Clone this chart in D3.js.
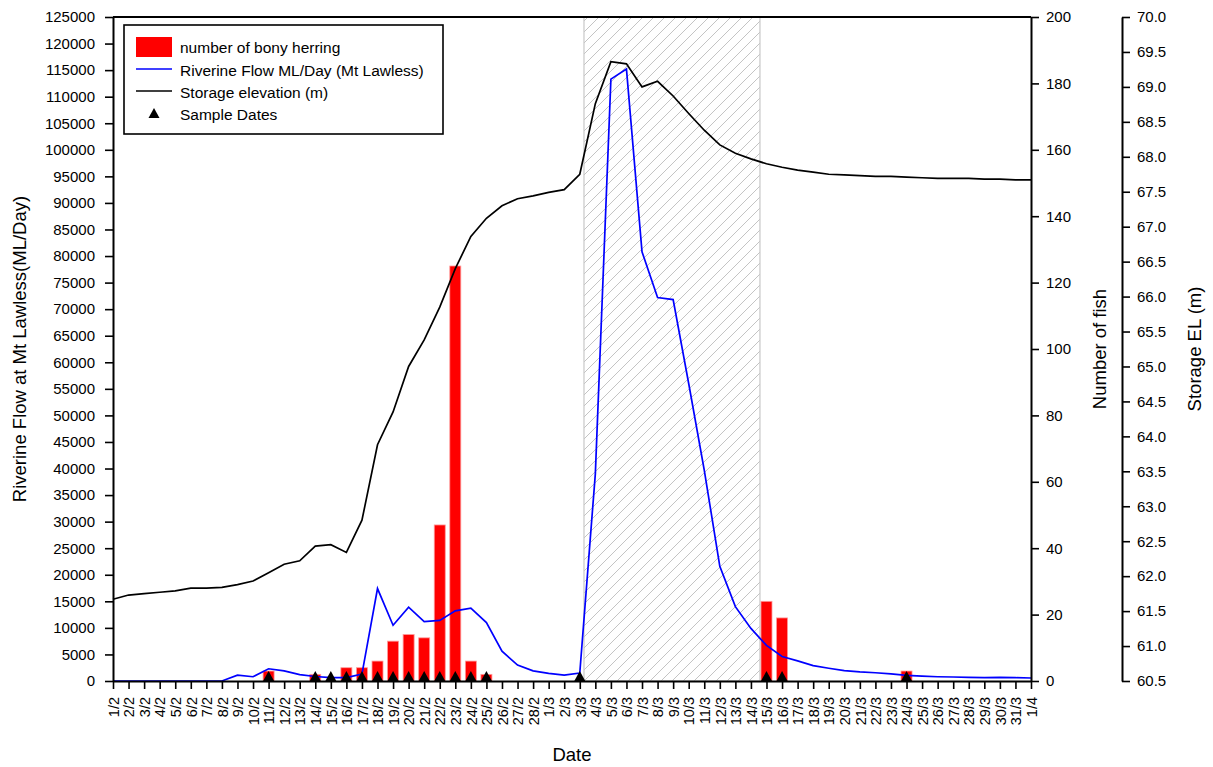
<!DOCTYPE html>
<html>
<head>
<meta charset="utf-8">
<script src="https://cdn.jsdelivr.net/npm/d3@7"></script>
<style>
  html, body { margin: 0; padding: 0; background: #fff; }
  svg { display: block; font-family: "Liberation Sans", Arial, Helvetica, sans-serif; }
</style>
</head>
<body>
<svg id="chart" width="1213" height="767"></svg>
<script>
// Daily date labels, 1 Feb to 1 Apr
const dateLabels = [
  "1/2","2/2","3/2","4/2","5/2","6/2","7/2","8/2","9/2","10/2",
  "11/2","12/2","13/2","14/2","15/2","16/2","17/2","18/2","19/2","20/2",
  "21/2","22/2","23/2","24/2","25/2","26/2","27/2","28/2",
  "1/3","2/3","3/3","4/3","5/3","6/3","7/3","8/3","9/3","10/3",
  "11/3","12/3","13/3","14/3","15/3","16/3","17/3","18/3","19/3","20/3",
  "21/3","22/3","23/3","24/3","25/3","26/3","27/3","28/3","29/3","30/3","31/3",
  "1/4"
];

// Riverine flow at Mt Lawless (ML/day), one value per date
const flow = [
  0, 0, 0, 0, 0, 0, 0, 0, 1100, 800,
  2300, 1900, 1200, 850, 630, 630, 1300, 17400, 10500, 13900,
  11200, 11400, 13200, 13700, 11000, 5600, 3000, 1900,
  1450, 1100, 1500, 39000, 113300, 115200, 80800, 72200, 71800, 56000,
  39700, 21600, 14000, 9900, 6700, 4600, 3800, 2900, 2400, 1950,
  1700, 1550, 1350, 1050, 900, 800, 750, 700, 620, 700, 620,
  560
];

// Storage elevation (m), one value per date
const storage = [
  61.67, 61.73, 61.75, 61.77, 61.79, 61.83, 61.83, 61.84, 61.88, 61.93,
  62.05, 62.17, 62.22, 62.43, 62.45, 62.34, 62.80, 63.88, 64.35, 65.00,
  65.38, 65.85, 66.40, 66.86, 67.12, 67.30, 67.40, 67.44,
  67.49, 67.53, 67.75, 68.76, 69.36, 69.33, 69.00, 69.08, 68.87, 68.62,
  68.38, 68.17, 68.05, 67.97, 67.90, 67.85, 67.81, 67.78, 67.75, 67.74,
  67.73, 67.72, 67.72, 67.71, 67.70, 67.69, 67.69, 67.69, 67.68, 67.68, 67.67,
  67.67
];

// Bony herring counts on sampled days
const fishDates  = ["11/2","14/2","16/2","17/2","18/2","19/2","20/2","21/2","22/2","23/2","24/2","25/2","15/3","16/3","24/3"];
const fishCounts = [3, 2, 4, 4, 6, 12, 14, 13, 47, 125, 6, 2, 24, 19, 3];

// Days on which samples were taken
const sampleDates = ["11/2","14/2","15/2","16/2","17/2","18/2","19/2","20/2","21/2","22/2","23/2","24/2","25/2","3/3","15/3","16/3","24/3"];

// Shaded flood period, as fractional day positions
const floodPeriod = [30.27, 41.58];

// Axis ticks
const flowTicks = d3.range(0, 125001, 5000);
const fishTicks = [0, 20, 40, 60, 80, 100, 120, 140, 160, 180, 200];
const elevTicks = [60.5, 61.0, 61.5, 62.0, 62.5, 63.0, 63.5, 64.0, 64.5, 65.0, 65.5, 66.0, 66.5, 67.0, 67.5, 68.0, 68.5, 69.0, 69.5, 70.0];

const L = 113, R = 1031, T = 17, B = 681, R2 = 1122;
const svg = d3.select("#chart");

const x = d3.scaleLinear().domain([0, dateLabels.length - 1]).range([L, R]);
const idx = d => dateLabels.indexOf(d);
const yFlow = d3.scaleLinear().domain([0, 125000]).range([B, T]);
const yFish = d3.scaleLinear().domain([0, 200]).range([B, T]);
const yElev = d3.scaleLinear().domain([60.5, 70.0]).range([B, T]);

// Hatch pattern for the flood period
const defs = svg.append("defs");
const pat = defs.append("pattern")
  .attr("id", "hatch").attr("patternUnits", "userSpaceOnUse")
  .attr("width", 11).attr("height", 11);
pat.append("path").attr("d", "M-1,12 L12,-1 M-1,1 L1,-1 M10,12 L12,10")
  .attr("stroke", "#c4c4c4").attr("stroke-width", 1).attr("fill", "none");

svg.append("rect")
  .attr("x", x(floodPeriod[0])).attr("y", yFlow(125000))
  .attr("width", x(floodPeriod[1]) - x(floodPeriod[0]))
  .attr("height", yFlow(0) - yFlow(125000))
  .attr("fill", "url(#hatch)").attr("stroke", "#c8c8c8").attr("stroke-width", 1.2);

// Fish bars
const barW = 11;
svg.append("g").selectAll("rect").data(fishDates).join("rect")
  .attr("x", (d) => x(idx(d)) - barW / 2)
  .attr("y", (d, i) => yFish(fishCounts[i]))
  .attr("width", barW)
  .attr("height", (d, i) => yFish(0) - yFish(fishCounts[i]))
  .attr("fill", "#ff0000").attr("stroke", "#ff9a9a").attr("stroke-width", 0.8);

// Flow and storage lines
svg.append("path").datum(flow)
  .attr("d", d3.line().x((d, i) => x(i)).y(d => yFlow(d)))
  .attr("fill", "none").attr("stroke", "#0000ff").attr("stroke-width", 1.7);

svg.append("path").datum(storage)
  .attr("d", d3.line().x((d, i) => x(i)).y(d => yElev(d)))
  .attr("fill", "none").attr("stroke", "#000").attr("stroke-width", 1.7);

// Sample date markers
const tri = (cx, by) => `M${cx - 5.5},${by} L${cx + 5.5},${by} L${cx},${by - 10} Z`;
svg.append("g").selectAll("path").data(sampleDates).join("path")
  .attr("d", d => tri(x(idx(d)), yFish(0)))
  .attr("fill", "#000");

// Axes
function styleAxis(g) {
  g.selectAll(".domain").attr("stroke", "#000").attr("stroke-width", 2);
  g.selectAll(".tick line").attr("stroke", "#000").attr("stroke-width", 1.6);
  g.selectAll(".tick text").attr("fill", "#000");
}

const xAxis = svg.append("g").attr("transform", `translate(0,${B})`)
  .call(d3.axisBottom(x).tickValues(d3.range(dateLabels.length))
    .tickFormat(i => dateLabels[i]).tickSize(8).tickSizeOuter(0))
  .call(styleAxis);
xAxis.selectAll(".tick text")
  .attr("transform", "rotate(-90)")
  .attr("text-anchor", "end")
  .attr("x", -16).attr("y", 0).attr("dy", "0.36em")
  .style("font-size", "14.5px");

const yAxisL = svg.append("g").attr("transform", `translate(${L},0)`)
  .call(d3.axisLeft(yFlow).tickValues(flowTicks).tickFormat(d3.format("d")).tickSize(8).tickSizeOuter(0))
  .call(styleAxis);
yAxisL.selectAll(".tick text").attr("x", -18).style("font-size", "15px");

const yAxisR = svg.append("g").attr("transform", `translate(${R},0)`)
  .call(d3.axisRight(yFish).tickValues(fishTicks).tickSize(8).tickSizeOuter(0))
  .call(styleAxis);
yAxisR.selectAll(".tick text").attr("x", 15).style("font-size", "15px");

const yAxisR2 = svg.append("g").attr("transform", `translate(${R2},0)`)
  .call(d3.axisRight(yElev).tickValues(elevTicks).tickFormat(d3.format(".1f")).tickSize(8).tickSizeOuter(0))
  .call(styleAxis);
yAxisR2.selectAll(".tick text").attr("x", 15).style("font-size", "15px");

// Top frame line
svg.append("line").attr("x1", L).attr("x2", R).attr("y1", T).attr("y2", T)
  .attr("stroke", "#000").attr("stroke-width", 2);

// Axis titles
svg.append("text").attr("transform", `translate(26,${(T + B) / 2}) rotate(-90)`)
  .attr("text-anchor", "middle").style("font-size", "18.5px")
  .text("Riverine Flow at Mt Lawless(ML/Day)");
svg.append("text").attr("transform", `translate(1106,${(T + B) / 2}) rotate(-90)`)
  .attr("text-anchor", "middle").style("font-size", "18.5px")
  .text("Number of fish");
svg.append("text").attr("transform", `translate(1201,${(T + B) / 2}) rotate(-90)`)
  .attr("text-anchor", "middle").style("font-size", "18.5px")
  .text("Storage EL (m)");
svg.append("text").attr("x", x(29.5)).attr("y", 761)
  .attr("text-anchor", "middle").style("font-size", "18.5px")
  .text("Date");

// Legend
const lg = svg.append("g").attr("transform", "translate(124,25)");
lg.append("rect").attr("width", 319).attr("height", 109)
  .attr("fill", "#fff").attr("stroke", "#000").attr("stroke-width", 1.6);
const rowY = [22, 45, 67, 89];
lg.append("rect").attr("x", 12).attr("y", 12).attr("width", 36).attr("height", 20).attr("fill", "#ff0000");
lg.append("line").attr("x1", 12).attr("x2", 48).attr("y1", rowY[1] - 1).attr("y2", rowY[1] - 1)
  .attr("stroke", "#0000ff").attr("stroke-width", 1.6);
lg.append("line").attr("x1", 12).attr("x2", 48).attr("y1", rowY[2] - 1).attr("y2", rowY[2] - 1)
  .attr("stroke", "#000").attr("stroke-width", 1.6);
lg.append("path").attr("d", tri(30, rowY[3] + 4)).attr("fill", "#000");
const legendLabels = ["number of bony herring", "Riverine Flow ML/Day (Mt Lawless)", "Storage elevation (m)", "Sample Dates"];
lg.selectAll("text.lbl").data(legendLabels).join("text")
  .attr("class", "lbl")
  .attr("x", 56).attr("y", (d, i) => rowY[i]).attr("dy", "0.36em")
  .style("font-size", "15.5px")
  .text(d => d);
</script>
</body>
</html>
